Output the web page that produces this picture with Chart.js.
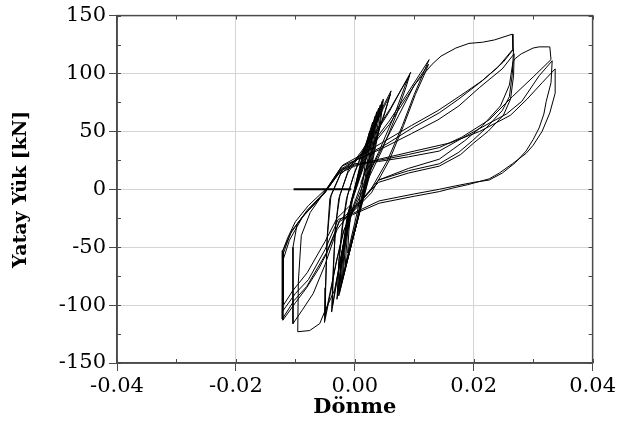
<!DOCTYPE html>
<html lang="tr">
<head>
<meta charset="UTF-8">
<title>Yatay Yük - Dönme</title>
<script src="https://cdn.jsdelivr.net/npm/chart.js"></script>
<style>
  body { margin: 0; background: #fff; }
  canvas { display: block; }
</style>
</head>
<body>
<canvas id="chart" width="619" height="448"></canvas>
<script>
// [rotation, load kN] pairs, in test order
const startLine = [[-0.0103, 0], [-0.0006, 0]];

const elasticCycles = [
  [0, 0], [0.0012, 25], [0.0025, 50], [0.0020, 32], [0.0014, 8], [0.0004, -20], [-0.0012, -55], [-0.0010, -36], [-0.0004, -8],
  [0.0012, 28], [0.0030, 58], [0.0025, 38], [0.0017, 8], [0.0004, -25], [-0.0016, -65], [-0.0013, -42], [-0.0006, -10],
  [0.0013, 27], [0.0034, 63], [0.0029, 44], [0.0019, 10], [0.0004, -28], [-0.0019, -72], [-0.0016, -48], [-0.0007, -12],
  [0.0015, 28], [0.0037, 67], [0.0032, 47], [0.0020, 10], [0.0003, -30], [-0.0021, -78], [-0.0018, -52], [-0.0008, -14],
  [0.0017, 29], [0.0040, 70], [0.0035, 50], [0.0022, 12], [0.0002, -32], [-0.0023, -82], [-0.0020, -56], [-0.0009, -16],
  [0.0019, 30], [0.0043, 73], [0.0038, 53], [0.0023, 12], [0.0001, -34], [-0.0025, -86], [-0.0022, -60], [-0.0010, -18],
  [0.0021, 31], [0.0046, 76], [0.0041, 55], [0.0024, 12], [0.0000, -36], [-0.0026, -90], [-0.0023, -62], [-0.0011, -20],
  [0.0023, 32], [0.0048, 78], [0.0043, 57], [0.0025, 12], [-0.0001, -38], [-0.0027, -92], [-0.0024, -64], [-0.0012, -20]
];

const mediumCycles = [
  [0.0010, 5], [0.0030, 35], [0.0050, 65], [0.0061, 85], [0.0050, 74], [0.0035, 58], [0.0015, 35], [0.0000, 15],
  [-0.0012, -5], [-0.0020, -30], [-0.0026, -60], [-0.0030, -95], [-0.0024, -70], [-0.0015, -40], [-0.0005, -18],
  [0.0012, 6], [0.0032, 38], [0.0050, 66], [0.0060, 82], [0.0048, 70], [0.0030, 50], [0.0012, 30], [-0.0002, 12],
  [-0.0014, -8], [-0.0022, -35], [-0.0027, -62], [-0.0029, -92], [-0.0023, -66], [-0.0013, -38], [-0.0004, -18],
  [0.0015, 5], [0.0040, 32], [0.0065, 62], [0.0085, 90], [0.0094, 101], [0.0080, 88], [0.0060, 70], [0.0035, 50],
  [0.0010, 32], [-0.0010, 18], [-0.0025, -5], [-0.0032, -30], [-0.0036, -65], [-0.0039, -106], [-0.0032, -85],
  [-0.0022, -55], [-0.0012, -30], [-0.0004, -20],
  [0.0018, 4], [0.0045, 33], [0.0068, 62], [0.0086, 88], [0.0092, 98], [0.0078, 86], [0.0058, 67], [0.0032, 46],
  [0.0008, 29], [-0.0012, 14], [-0.0027, -8], [-0.0033, -35], [-0.0036, -70], [-0.0038, -102], [-0.0031, -80],
  [-0.0020, -50], [-0.0010, -26], [-0.0002, -18],
  [0.0025, -2], [0.0055, 25], [0.0080, 55], [0.0100, 82], [0.0115, 100], [0.0125, 112], [0.0110, 100], [0.0090, 84],
  [0.0058, 59], [0.0030, 40], [0.0000, 25], [-0.0022, 16], [-0.0040, -5], [-0.0046, -40], [-0.0049, -80],
  [-0.0051, -115], [-0.0043, -95], [-0.0032, -65], [-0.0020, -38], [-0.0008, -22],
  [0.0028, -3], [0.0058, 25], [0.0082, 55], [0.0102, 82], [0.0116, 98], [0.0124, 108], [0.0108, 96], [0.0088, 80],
  [0.0058, 56], [0.0028, 37], [-0.0002, 23], [-0.0024, 13], [-0.0042, -8], [-0.0047, -45], [-0.0049, -85],
  [-0.0050, -110], [-0.0042, -90], [-0.0030, -60], [-0.0018, -35], [-0.0006, -22]
];

const largeCycles1 = [
  [0.0020, 10], [0.0060, 50], [0.0100, 90], [0.0130, 108], [0.0145, 115], [0.0170, 122], [0.0192, 126],
  [0.0215, 127], [0.0235, 129], [0.0265, 134], [0.0266, 121],
  [0.0240, 105], [0.0210, 92], [0.0175, 78], [0.0142, 66], [0.0100, 54], [0.0050, 38], [0.0010, 27],
  [-0.0022, 20], [-0.0048, 0], [-0.0075, -20], [-0.0090, -40], [-0.0095, -80], [-0.0096, -123],
  [-0.0076, -122], [-0.0059, -116], [-0.0051, -106], [-0.0034, -87], [-0.0022, -55], [-0.0010, -22],
  [0.0040, 8], [0.0090, 16], [0.0142, 22], [0.0175, 32], [0.0198, 42], [0.0221, 53], [0.0248, 68],
  [0.0260, 80], [0.0265, 100], [0.0267, 121],
  [0.0250, 110], [0.0215, 94], [0.0175, 80], [0.0140, 68], [0.0095, 55], [0.0045, 40], [0.0005, 28],
  [-0.0020, 21], [-0.0045, 2], [-0.0078, -14], [-0.0100, -28], [-0.0113, -42], [-0.0121, -53],
  [-0.0121, -85], [-0.0121, -113],
  [-0.0100, -98], [-0.0081, -85], [-0.0060, -68], [-0.0048, -56], [-0.0035, -40], [-0.0026, -27], [-0.0010, -20],
  [0.0040, 6], [0.0090, 14], [0.0142, 20], [0.0178, 30], [0.0200, 40], [0.0224, 50], [0.0250, 64],
  [0.0262, 78], [0.0267, 98], [0.0268, 117],
  [0.0248, 104], [0.0210, 88], [0.0175, 72], [0.0140, 60], [0.0095, 48], [0.0045, 35], [0.0005, 26],
  [-0.0022, 18], [-0.0050, -2], [-0.0080, -18], [-0.0097, -30], [-0.0104, -50], [-0.0104, -85], [-0.0104, -116],
  [-0.0088, -104], [-0.0070, -90], [-0.0050, -65], [-0.0030, -35], [-0.0008, -20]
];

const largeCycles2 = [
  [0.0040, 8], [0.0090, 18], [0.0142, 26], [0.0185, 42], [0.0215, 55], [0.0245, 72], [0.0260, 90],
  [0.0266, 110], [0.0270, 113], [0.0280, 117], [0.0288, 119], [0.0300, 122], [0.0310, 123], [0.0326, 123],
  [0.0328, 123], [0.0330, 112],
  [0.0300, 97], [0.0265, 80], [0.0226, 60], [0.0180, 45], [0.0142, 36], [0.0090, 30], [0.0040, 25],
  [0.0000, 22], [-0.0024, 17], [-0.0050, -3], [-0.0082, -20], [-0.0105, -35], [-0.0121, -53], [-0.0122, -112],
  [-0.0102, -96], [-0.0081, -84], [-0.0048, -55], [-0.0026, -28], [-0.0004, -21],
  [0.0041, -10], [0.0100, -4], [0.0142, 0], [0.0170, 3], [0.0200, 6], [0.0226, 8], [0.0248, 14],
  [0.0270, 23], [0.0288, 33], [0.0300, 43], [0.0310, 53], [0.0318, 65], [0.0322, 76], [0.0330, 92], [0.0332, 111],
  [0.0310, 98], [0.0281, 76], [0.0255, 65], [0.0226, 57], [0.0180, 44], [0.0142, 33], [0.0090, 28],
  [0.0040, 24], [0.0000, 21], [-0.0024, 16], [-0.0052, -4], [-0.0085, -22], [-0.0108, -38], [-0.0120, -55],
  [-0.0121, -105],
  [-0.0100, -90], [-0.0078, -78], [-0.0050, -52], [-0.0028, -26], [-0.0004, -22],
  [0.0041, -12], [0.0100, -6], [0.0142, -2], [0.0164, 1], [0.0190, 4], [0.0226, 9], [0.0243, 14],
  [0.0265, 22], [0.0288, 31], [0.0300, 38], [0.0315, 50], [0.0328, 66], [0.0337, 83], [0.0337, 104],
  [0.0315, 92], [0.0290, 78], [0.0262, 64], [0.0240, 58], [0.0210, 50], [0.0160, 40], [0.0100, 33],
  [0.0041, 26], [0.0000, 20], [-0.0026, 14], [-0.0054, -5], [-0.0088, -24], [-0.0110, -44], [-0.0120, -60],
  [-0.0120, -100], [-0.0105, -88], [-0.0080, -72], [-0.0050, -45], [-0.0030, -25], [-0.0010, -15]
];

const xTicks = { min: -0.04, max: 0.04, step: 0.02, minor: 0.01 };
const yTicks = { min: -150, max: 150, step: 50, minor: 25 };

const toPoints = arr => arr.map(p => ({ x: p[0], y: p[1] }));

function lineSet(arr, width) {
  return {
    data: toPoints(arr),
    showLine: true,
    borderColor: '#000',
    borderWidth: width,
    pointRadius: 0,
    fill: false,
    tension: 0
  };
}

const axisColor = '#4a4a4a';

// box round the plot and the small inner ticks
const framePlugin = {
  id: 'frame',
  afterDraw(chart) {
    const { ctx, chartArea: a, scales: { x, y } } = chart;
    ctx.save();
    ctx.strokeStyle = axisColor;
    ctx.lineWidth = 1.5;
    ctx.strokeRect(a.left, a.top, a.right - a.left, a.bottom - a.top);
    ctx.lineWidth = 1;
    ctx.beginPath();
    for (let v = xTicks.min; v <= xTicks.max + 1e-9; v += xTicks.minor) {
      const px = Math.round(x.getPixelForValue(v)) + 0.5;
      ctx.moveTo(px, a.bottom); ctx.lineTo(px, a.bottom - 4);
      ctx.moveTo(px, a.top); ctx.lineTo(px, a.top + 4);
    }
    for (let v = yTicks.min; v <= yTicks.max + 1e-9; v += yTicks.minor) {
      const py = Math.round(y.getPixelForValue(v)) + 0.5;
      ctx.moveTo(a.left, py); ctx.lineTo(a.left + 4, py);
      ctx.moveTo(a.right, py); ctx.lineTo(a.right - 4, py);
    }
    ctx.stroke();
    ctx.restore();
  }
};

const tickFont = { family: 'DejaVu Serif', size: 21 };
const titleFont = { family: 'DejaVu Serif', size: 19, weight: 'bold' };

new Chart(document.getElementById('chart'), {
  type: 'scatter',
  data: {
    datasets: [
      lineSet(startLine, 2),
      lineSet(elasticCycles, 1),
      lineSet(mediumCycles, 1),
      lineSet(largeCycles1, 1),
      lineSet(largeCycles2, 1)
    ]
  },
  options: {
    responsive: false,
    animation: false,
    devicePixelRatio: 1,
    layout: { padding: { top: 14, right: 25, left: 0, bottom: 0 } },
    plugins: { legend: { display: false }, tooltip: { enabled: false } },
    scales: {
      x: {
        type: 'linear',
        min: xTicks.min,
        max: xTicks.max,
        afterFit: s => { s.height = 85; },
        ticks: {
          stepSize: xTicks.step,
          color: '#000',
          font: tickFont,
          padding: 3,
          maxRotation: 0,
          callback: v => (Math.abs(v) < 1e-9 ? 0 : v).toFixed(2)
        },
        grid: { color: '#d4d4d4', tickColor: axisColor, tickLength: 8 },
        border: { color: axisColor, width: 1.5 },
        title: { display: true, text: 'Dönme', color: '#000', font: { family: 'DejaVu Serif', size: 21, weight: 'bold' }, padding: { top: 0, bottom: 28 } }
      },
      y: {
        min: yTicks.min,
        max: yTicks.max,
        afterFit: s => { s.width = 117; },
        ticks: { stepSize: yTicks.step, color: '#000', font: tickFont, padding: 3 },
        grid: { color: '#d4d4d4', tickColor: axisColor, tickLength: 8 },
        border: { color: axisColor, width: 1.5 },
        title: { display: true, text: 'Yatay Yük [kN]', color: '#000', font: titleFont, padding: { top: 10, bottom: 0 } }
      }
    }
  },
  plugins: [framePlugin]
});
</script>
</body>
</html>
